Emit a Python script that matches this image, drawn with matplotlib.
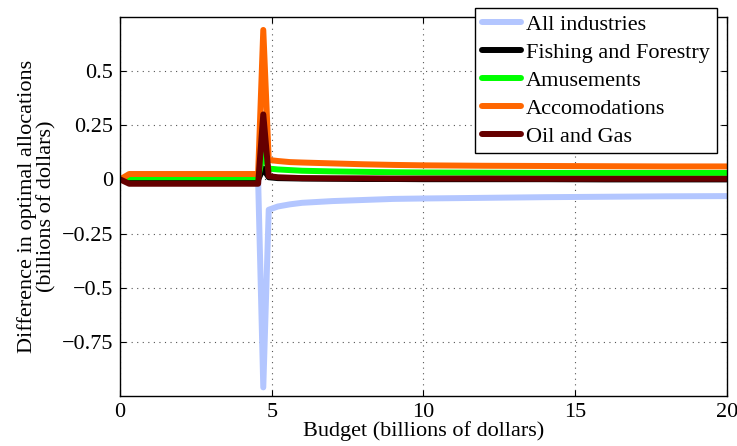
import matplotlib
matplotlib.use("Agg")
import matplotlib.pyplot as plt

plt.rcParams['font.family'] = ['Liberation Serif', 'DejaVu Serif']
plt.rcParams['mathtext.fontset'] = 'stix'

# budget grid (billions of dollars)
budget = [0, 0.3, 1, 2, 3, 4, 4.55, 4.72, 4.9, 5.2, 5.6, 6, 7, 8, 9, 10, 12, 14, 16, 18, 20]

# difference in optimal allocations per industry
all_industries = [0, 0, 0, 0, 0, 0, 0, -0.96, -0.14, -0.125, -0.115, -0.108, -0.1, -0.095,
                  -0.09, -0.088, -0.085, -0.082, -0.08, -0.078, -0.077]
fishing = [0, 0, 0, 0, 0, 0, 0, 0.05, 0.01, 0.006, 0.005, 0.004, 0.003, 0.002,
           0.002, 0.001, 0.001, 0.001, 0, 0, 0]
amusements = [0, 0.01, 0.01, 0.01, 0.01, 0.01, 0.01, 0.12, 0.05, 0.046, 0.043, 0.04,
              0.037, 0.035, 0.033, 0.032, 0.031, 0.03, 0.03, 0.03, 0.03]
accomodations = [0, 0.025, 0.025, 0.025, 0.025, 0.025, 0.025, 0.69, 0.09, 0.085, 0.08,
                 0.078, 0.074, 0.07, 0.067, 0.065, 0.063, 0.062, 0.061, 0.06, 0.06]
oil_gas = [0, -0.02, -0.02, -0.02, -0.02, -0.02, -0.02, 0.30, 0.015, 0.01, 0.008, 0.006,
           0.005, 0.005, 0.004, 0.004, 0.004, 0.003, 0.003, 0.003, 0.003]

series = [
    ("All industries", all_industries, "#b3c6ff"),
    ("Fishing and Forestry", fishing, "#000000"),
    ("Amusements", amusements, "#00ff00"),
    ("Accomodations", accomodations, "#ff6600"),
    ("Oil and Gas", oil_gas, "#660000"),
]

fig = plt.figure(figsize=(7.37, 4.46), dpi=100)
ax = fig.add_axes([0.163, 0.112, 0.823, 0.85])

for name, vals, col in series:
    ax.plot(budget, vals, color=col, lw=4.3, label=name, solid_capstyle='round')

ax.set_xlim(0, 20)
ax.set_ylim(-1, 0.75)
ax.set_xticks([0, 5, 10, 15, 20])
ax.set_yticks([-0.75, -0.5, -0.25, 0, 0.25, 0.5])
ax.set_yticklabels(["\u22120.75", "\u22120.5", "\u22120.25", "0", "0.25", "0.5"])
ax.tick_params(direction='in', top=True, right=True, labelsize=16, length=4, pad=5)
ax.grid(True, linestyle=(0, (1, 4)), color='#555555', lw=0.8)
for sp in ax.spines.values():
    sp.set_linewidth(1.0)

ax.set_xlabel("Budget (billions of dollars)", fontsize=16, labelpad=-1)
ax.set_ylabel("Difference in optimal allocations\n(billions of dollars)", fontsize=16,
              labelpad=4, linespacing=0.95)

leg = ax.legend(loc='upper right', bbox_to_anchor=(0.9835, 1.024), fontsize=16,
                frameon=True, fancybox=False, edgecolor='black', framealpha=1,
                handlelength=1.75, handletextpad=0.25, borderpad=0.3, labelspacing=0.33,
                borderaxespad=0)
leg.get_frame().set_linewidth(1.0)

fig.savefig("out.png", dpi=100)
